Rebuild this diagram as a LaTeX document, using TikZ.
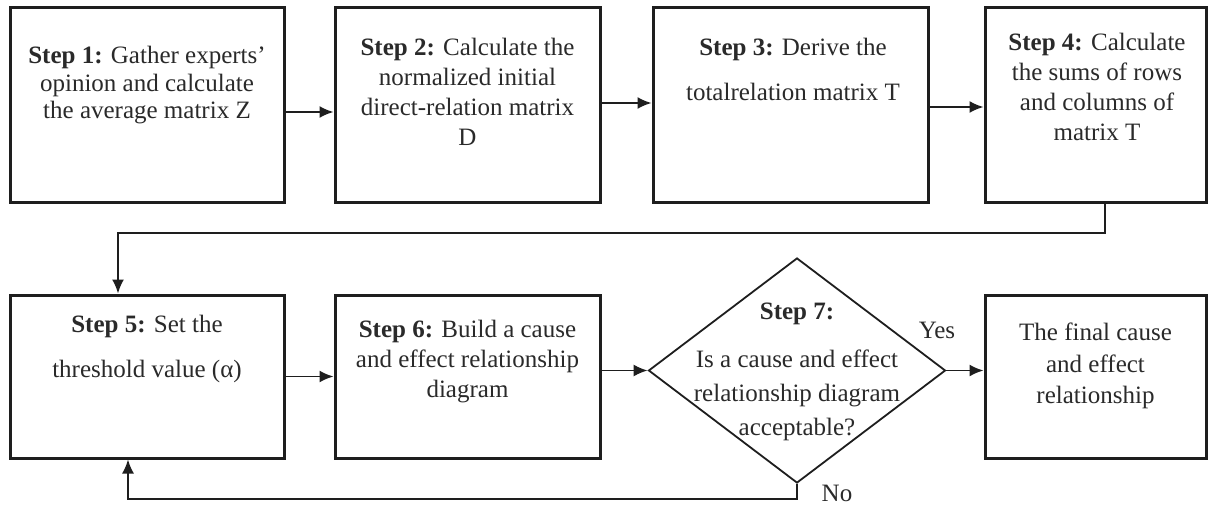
\documentclass[tikz,border=0pt]{standalone}
\usepackage{fontspec}
\setmainfont{Liberation Serif}
\usetikzlibrary{shapes.geometric,arrows.meta}
\definecolor{ink}{HTML}{1E1E1E}
\definecolor{txt}{HTML}{2A2A2A}
\tikzset{
  stepbox/.style={draw=ink, line width=3pt, rectangle, inner sep=0pt},
  decide/.style={draw=ink, line width=1.8pt, diamond, inner sep=0pt, minimum width=297pt, minimum height=225pt},
  txt/.style={text=txt, align=center, inner sep=0pt, anchor=north, font=\fontsize{25}{30}\selectfont},
  lbl/.style={text=txt, inner sep=0pt, font=\fontsize{25}{30}\selectfont},
  arr/.style={draw=ink, line width=1.8pt, -{Latex[length=14pt,width=12pt]}},
  link/.style={draw=ink, line width=1.8pt}
}
\begin{document}
\begin{tikzpicture}[x=1pt,y=-1pt]
\useasboundingbox[fill=white] (0,0) rectangle (1208,508);
% row 1
\node[stepbox, minimum width=274pt, minimum height=194pt] (b1) at (147,105) {};
\node[stepbox, minimum width=265pt, minimum height=194pt] (b2) at (467.5,105) {};
\node[stepbox, minimum width=275pt, minimum height=194pt] (b3) at (790.5,105) {};
\node[stepbox, minimum width=221pt, minimum height=194pt] (b4) at (1095.5,105) {};
% row 2
\node[stepbox, minimum width=274pt, minimum height=163pt] (b5) at (147,376.5) {};
\node[stepbox, minimum width=265pt, minimum height=163pt] (b6) at (467.5,376.5) {};
\node[decide] (d7) at (797,370.5) {};
\node[stepbox, minimum width=221pt, minimum height=163pt] (b8) at (1095.5,376.5) {};
% texts
\node[txt, font=\fontsize{25}{27.5}\selectfont] (t1) at (147,46) {\textbf{Step 1:} Gather experts'\\opinion and calculate\\the average matrix Z};
\node[txt] (t2) at (467.5,38) {\textbf{Step 2:} Calculate the\\normalized initial\\direct-relation matrix\\D};
\node[txt] (t3) at (793,38) {\textbf{Step 3:} Derive the\\[15pt]totalrelation matrix T};
\node[txt] (t4) at (1097,33) {\textbf{Step 4:} Calculate\\the sums of rows\\and columns of\\matrix T};
\node[txt] (t5) at (147,315) {\textbf{Step 5:} Set the\\[15pt]threshold value (α)};
\node[txt] (t6) at (467.5,320) {\textbf{Step 6:} Build a cause\\and effect relationship\\diagram};
\node[txt, font=\fontsize{25}{34}\selectfont] (t7) at (797,303) {\textbf{Step 7:}\\[14pt]Is a cause and effect\\relationship diagram\\acceptable?};
\node[txt, font=\fontsize{25}{31.5}\selectfont] (t8) at (1095.5,323) {The final cause\\and effect\\relationship};
% connectors row 1
\draw[arr] ([yshift=-7pt]b1.east) -- ([yshift=-7pt]b2.west);
\draw[arr] ([yshift=2pt]b2.east) -- ([yshift=2pt]b3.west);
\draw[arr] ([yshift=-2pt]b3.east) -- ([yshift=-2pt]b4.west);
% step 4 to step 5
\coordinate (c45) at (1105,233);
\draw[arr] ([xshift=9.5pt]b4.south) -- (c45) -| ([xshift=-29pt]b5.north);
% row 2
\draw[arr] (b5.east) -- (b6.west);
\draw[arr] (b6.east |- d7.west) -- (d7.west);
\draw[arr] (d7.east) -- (b8.west |- d7.east);
% feedback
\coordinate (cno) at (797,499);
\draw[arr] (d7.south) -- (cno) -| ([xshift=-19pt]b5.south);
% labels
\node[lbl] (yes) at (937,330) {Yes};
\node[lbl] (no) at (837,493) {No};
\end{tikzpicture}
\end{document}
